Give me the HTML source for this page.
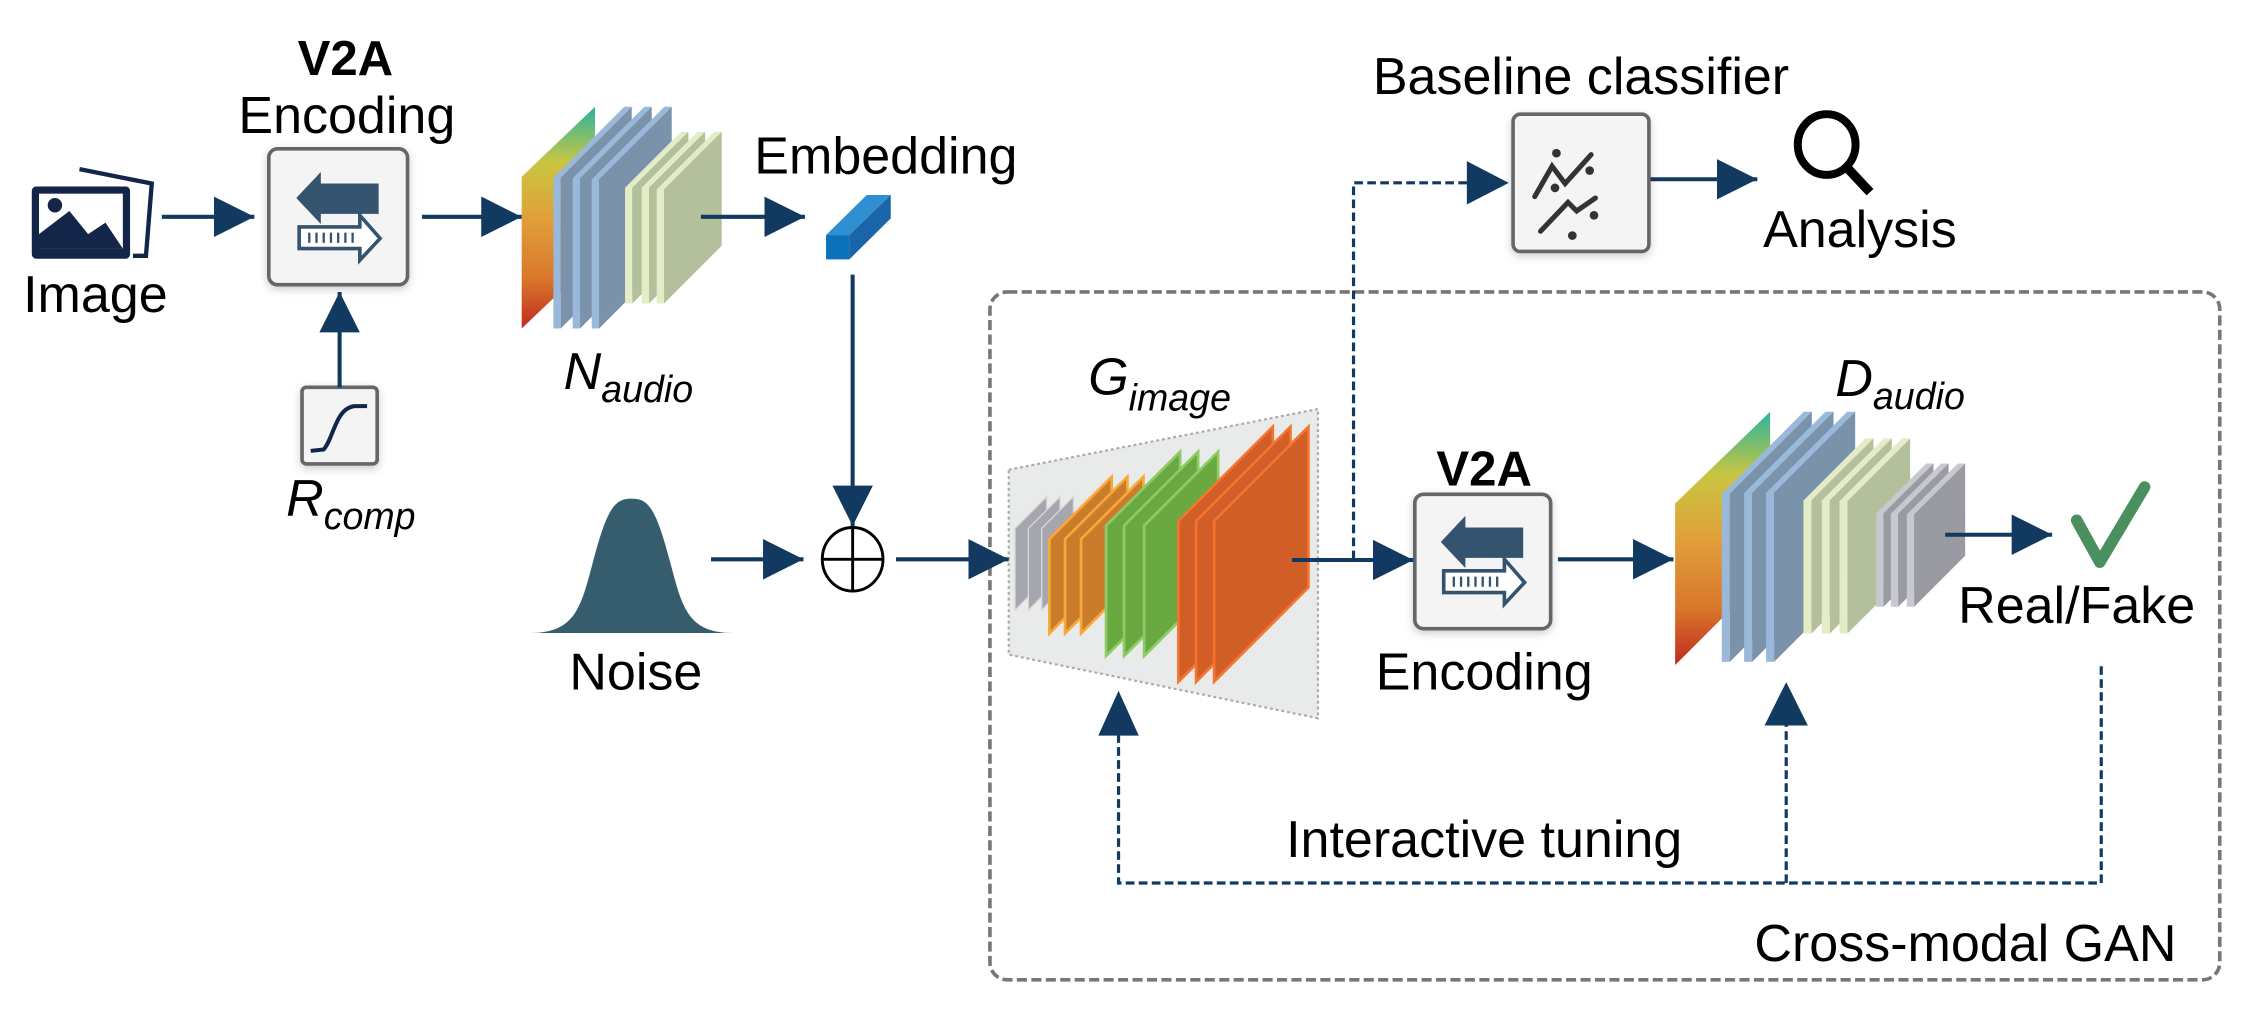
<!DOCTYPE html>
<html><head><meta charset="utf-8"><style>html,body{margin:0;padding:0;background:#fff}svg{display:block}</style></head>
<body>
<svg width="2266" height="1018" viewBox="0 0 1568 704.4" xmlns="http://www.w3.org/2000/svg" font-family="'Liberation Sans', sans-serif">
<defs>
<marker id="ah" markerWidth="10" markerHeight="10" refX="10" refY="5" orient="auto" markerUnits="strokeWidth"><path d="M0,0 L10,5 L0,10 z" fill="#123a60"/></marker>
<linearGradient id="spec" x1="0" y1="0" x2="0" y2="1"><stop offset="0" stop-color="#2bb3a0"/><stop offset="0.25" stop-color="#c9c640"/><stop offset="0.5" stop-color="#e0a03a"/><stop offset="0.78" stop-color="#d9762b"/><stop offset="1" stop-color="#c02a20"/></linearGradient>
<filter id="sh" x="-20%" y="-20%" width="140%" height="140%"><feDropShadow dx="0" dy="2" stdDeviation="3" flood-color="#000" flood-opacity="0.2"/></filter>
<g id="enc">
<path d="M205,137 L222,119 L222,127 L262,127 L262,148 L222,148 L222,155z" fill="#34536f"/>
<path d="M207,157 L249,157 L249,149 L263,165 L249,180 L249,172 L207,172z" fill="#fff" stroke="#34536f" stroke-width="2.5"/>
<g stroke="#34536f" stroke-width="1.6"><line x1="214" y1="161" x2="214" y2="168"/><line x1="219" y1="161" x2="219" y2="168"/><line x1="224" y1="161" x2="224" y2="168"/><line x1="229" y1="161" x2="229" y2="168"/><line x1="234" y1="161" x2="234" y2="168"/><line x1="239" y1="161" x2="239" y2="168"/><line x1="244" y1="161" x2="244" y2="168"/></g>
</g>
</defs>
<!-- GAN dashed box -->
<rect x="685" y="202" width="851" height="476" rx="12" fill="none" stroke="#777" stroke-width="2.5" stroke-dasharray="7,3"/>
<g stroke="#123a60" stroke-width="2.2" fill="none" stroke-dasharray="6,3">
<polyline points="936.6,387 936.6,126.5 1020,126.5"/>
<polyline points="1454,461 1454,611 774,611 774,505"/>
<line x1="1236" y1="611" x2="1236" y2="500"/>
</g>
<g fill="#123a60">
<path d="M1015,111.5 L1044,126.5 L1015,141.5z"/>
<path d="M760,509 L774,478 L788,509z"/>
<path d="M1221,502 L1236,472 L1251,502z"/>
</g>
<!-- Image icon -->
<path d="M55,117 L105,127 L101,177 L92,177" fill="none" stroke="#13264a" stroke-width="3"/>
<rect x="22" y="129" width="68" height="50" rx="3" fill="#13264a"/>
<rect x="27" y="134" width="58" height="38" fill="#fff"/>
<path d="M27,172 L27,162 L48,146 L61,162 L73,154 L85,172z" fill="#13264a"/>
<circle cx="38" cy="142" r="5" fill="#13264a"/>
<text x="66" y="216" font-size="36" text-anchor="middle">Image</text>
<!-- V2A box 1 -->
<text x="239" y="52" font-size="34" font-weight="bold" text-anchor="middle">V2A</text>
<text x="240" y="92" font-size="36" text-anchor="middle">Encoding</text>
<g filter="url(#sh)"><rect x="186" y="103" width="96" height="94" rx="6" fill="#f4f4f4" stroke="#666" stroke-width="2.5"/></g>
<use href="#enc"/>
<!-- R_comp -->
<g filter="url(#sh)"><rect x="209" y="268" width="52" height="53" rx="3" fill="#f4f4f4" stroke="#666" stroke-width="2.5"/></g>
<path d="M215,312 L224,311 C231,303 232,283 245,281 L254,281" fill="none" stroke="#13264a" stroke-width="2.8"/>
<text x="198" y="357" font-size="36" font-style="italic">R<tspan font-size="26" dy="9">comp</tspan></text>
<!-- N_audio stack -->
<g transform="translate(346,55.4) scale(0.2307)">
<path d="M65,290 L285,80 L285,535 L65,745z" fill="url(#spec)"/>
<g fill="#9ab8da"><path d="M160,293 373,80 395,80 182,293 182,745 160,745z"/></g><path d="M182,293 395,80 395,532 182,745z" fill="#7b92ab"/>
<path d="M218,295 433,80 455,80 240,295 240,745 218,745z" fill="#9ab8da"/><path d="M240,295 455,80 455,530 240,745z" fill="#7b92ab"/>
<path d="M275,298 493,80 515,80 297,298 297,745 275,745z" fill="#9ab8da"/><path d="M297,298 515,80 515,527 297,745z" fill="#7b92ab"/>
<path d="M375,323 543,155 565,155 397,323 397,670 375,670z" fill="#e3edc5"/><path d="M397,323 565,155 565,502 397,670z" fill="#b4c09c"/>
<path d="M425,323 593,155 615,155 447,323 447,670 425,670z" fill="#e3edc5"/><path d="M447,323 615,155 615,502 447,670z" fill="#b4c09c"/>
<path d="M470,328 643,155 665,155 492,328 492,670 470,670z" fill="#e3edc5"/><path d="M492,328 665,155 665,497 492,670z" fill="#b4c09c"/>
</g>
<text x="390" y="269" font-size="36" font-style="italic">N<tspan font-size="26" dy="9">audio</tspan></text>
<!-- Embedding -->
<text x="613" y="120" font-size="36" text-anchor="middle">Embedding</text>
<g transform="translate(484.4,69.2) scale(0.2307)">
<path d="M378,405 L500,285 L572,285 L448,405z" fill="#2f8fd0"/>
<path d="M448,405 L572,285 L572,355 L448,478z" fill="#1a65a8"/>
<rect x="378" y="405" width="70" height="73" fill="#0b72b9"/>
</g>
<!-- plus circle -->
<ellipse cx="590" cy="387" rx="21" ry="22" fill="#fff" stroke="#000" stroke-width="2"/>
<line x1="569" y1="387" x2="611" y2="387" stroke="#000" stroke-width="2"/>
<line x1="590" y1="365" x2="590" y2="409" stroke="#000" stroke-width="2"/>
<!-- Noise -->
<path d="M367,438 C398,438 402,420 410,390 C420,352 425,345 437,345 C449,345 454,352 464,390 C472,420 476,438 507,438z" fill="#355d6e"/>
<text x="440" y="477" font-size="36" text-anchor="middle">Noise</text>
<!-- G_image -->
<text x="753" y="273" font-size="36" font-style="italic">G<tspan font-size="26" dy="11">image</tspan></text>
<path d="M698,325 L912,283 L912,497 L698,453z" fill="#e9ebeb" stroke="#aaa" stroke-width="1.5" stroke-dasharray="2,2"/>
<g transform="translate(692,249.1) scale(0.2307)">
<g fill="#a6a6ae" stroke="#d6d6dc" stroke-width="4">
<path d="M45,505 L140,410 L140,655 L45,750z"/><path d="M85,505 L180,410 L180,655 L85,750z"/><path d="M125,505 L220,410 L220,655 L125,750z"/>
</g>
<g fill="#c97d2a" stroke="#f7a838" stroke-width="8">
<path d="M148,537 L335,350 L335,633 L148,820z"/><path d="M195,537 L382,350 L382,633 L195,820z"/><path d="M243,537 L430,350 L430,633 L243,820z"/>
</g>
<g fill="#6aa842" stroke="#8ecb64" stroke-width="8">
<path d="M318,497 L540,275 L540,666 L318,888z"/><path d="M372,497 L594,275 L594,666 L372,888z"/><path d="M432,497 L654,275 L654,666 L432,888z"/>
</g>
<g fill="#d05e26" stroke="#f47430" stroke-width="8">
<path d="M535,483 L818,200 L818,682 L535,965z"/><path d="M588,483 L871,200 L871,682 L588,965z"/><path d="M642,483 L925,200 L925,682 L642,965z"/>
</g>
</g>
<!-- V2A box 2 -->
<text x="1027" y="336" font-size="34" font-weight="bold" text-anchor="middle">V2A</text>
<g filter="url(#sh)"><rect x="979" y="342" width="94" height="93" rx="6" fill="#f4f4f4" stroke="#666" stroke-width="2.5"/></g>
<use href="#enc" transform="translate(792,238)"/>
<text x="1027" y="477" font-size="36" text-anchor="middle">Encoding</text>
<!-- D_audio stack -->
<text x="1270" y="274" font-size="36" font-style="italic">D<tspan font-size="26" dy="9">audio</tspan></text>
<g transform="translate(1134.9,263) scale(0.2307)">
<path d="M105,370 L390,95 L390,570 L105,855z" fill="url(#spec)"/>
<path d="M245,341 491,95 515,95 269,341 269,845 245,845z" fill="#9ab8da"/><path d="M269,341 515,95 515,599 269,845z" fill="#7b92ab"/>
<path d="M312,339 556,95 580,95 336,339 336,845 312,845z" fill="#9ab8da"/><path d="M336,339 580,95 580,601 336,845z" fill="#7b92ab"/>
<path d="M378,338 621,95 645,95 402,338 402,845 378,845z" fill="#9ab8da"/><path d="M402,338 645,95 645,602 402,845z" fill="#7b92ab"/>
<path d="M490,361 676,175 700,175 514,361 514,760 490,760z" fill="#e3edc5"/><path d="M514,361 700,175 700,574 514,760z" fill="#b4c09c"/>
<path d="M545,361 731,175 755,175 569,361 569,760 545,760z" fill="#e3edc5"/><path d="M569,361 755,175 755,574 569,760z" fill="#b4c09c"/>
<path d="M598,363 786,175 810,175 622,363 622,760 598,760z" fill="#e3edc5"/><path d="M622,363 810,175 810,572 622,760z" fill="#b4c09c"/>
<path d="M708,400 858,250 880,250 730,400 730,680 708,680z" fill="#c8c8d0"/><path d="M730,400 880,250 880,530 730,680z" fill="#9a9aa2"/>
<path d="M752,401 903,250 925,250 774,401 774,680 752,680z" fill="#c8c8d0"/><path d="M774,401 925,250 925,529 774,680z" fill="#9a9aa2"/>
<path d="M800,403 953,250 975,250 822,403 822,680 800,680z" fill="#c8c8d0"/><path d="M822,403 975,250 975,527 822,680z" fill="#9a9aa2"/>
</g>
<!-- solid arrows (on top) -->
<g stroke="#123a60" stroke-width="2.8" fill="none">
<line x1="112" y1="150" x2="176" y2="150" marker-end="url(#ah)"/>
<line x1="292" y1="150" x2="361" y2="150" marker-end="url(#ah)"/>
<line x1="485" y1="150" x2="557" y2="150" marker-end="url(#ah)"/>
<line x1="235" y1="268" x2="235" y2="202" marker-end="url(#ah)"/>
<line x1="590" y1="190" x2="590" y2="364" marker-end="url(#ah)"/>
<line x1="492" y1="387" x2="556" y2="387" marker-end="url(#ah)"/>
<line x1="620" y1="387" x2="698" y2="387" marker-end="url(#ah)"/>
<line x1="894" y1="387.5" x2="978" y2="387.5" marker-end="url(#ah)"/>
<line x1="1078" y1="387" x2="1158" y2="387" marker-end="url(#ah)"/>
<line x1="1346" y1="370" x2="1420" y2="370" marker-end="url(#ah)"/>
<line x1="1141" y1="124" x2="1216" y2="124" marker-end="url(#ah)"/>
</g>
<!-- check -->
<path d="M1437,360 L1453,389 L1484,337" fill="none" stroke="#4a8f5e" stroke-width="8" stroke-linecap="round" stroke-linejoin="round"/>
<text x="1437" y="431" font-size="36" text-anchor="middle">Real/Fake</text>
<text x="1027" y="593" font-size="36" text-anchor="middle">Interactive tuning</text>
<text x="1506" y="665" font-size="36" text-anchor="end">Cross-modal GAN</text>
<!-- baseline classifier -->
<text x="1094" y="65" font-size="36" text-anchor="middle">Baseline classifier</text>
<g filter="url(#sh)"><rect x="1047" y="79" width="94" height="95" rx="5" fill="#f4f4f4" stroke="#666" stroke-width="2.5"/></g>
<g stroke="#333" stroke-width="3.5" fill="none" stroke-linecap="round"><polyline points="1062,136 1074,115 1083,127 1101,107"/><polyline points="1066,160 1085,140 1091,146 1104,137"/></g>
<g fill="#333"><circle cx="1077" cy="106" r="3"/><circle cx="1100" cy="118" r="3"/><circle cx="1076" cy="130" r="3"/><circle cx="1103" cy="149" r="3"/><circle cx="1088" cy="163" r="3"/></g>
<!-- magnifier -->
<ellipse cx="1264" cy="100" rx="20" ry="21" fill="none" stroke="#000" stroke-width="5.5"/>
<line x1="1279" y1="117" x2="1294" y2="133" stroke="#000" stroke-width="6.5"/>
<text x="1287" y="171" font-size="36" text-anchor="middle">Analysis</text>
</svg>
</body></html>
